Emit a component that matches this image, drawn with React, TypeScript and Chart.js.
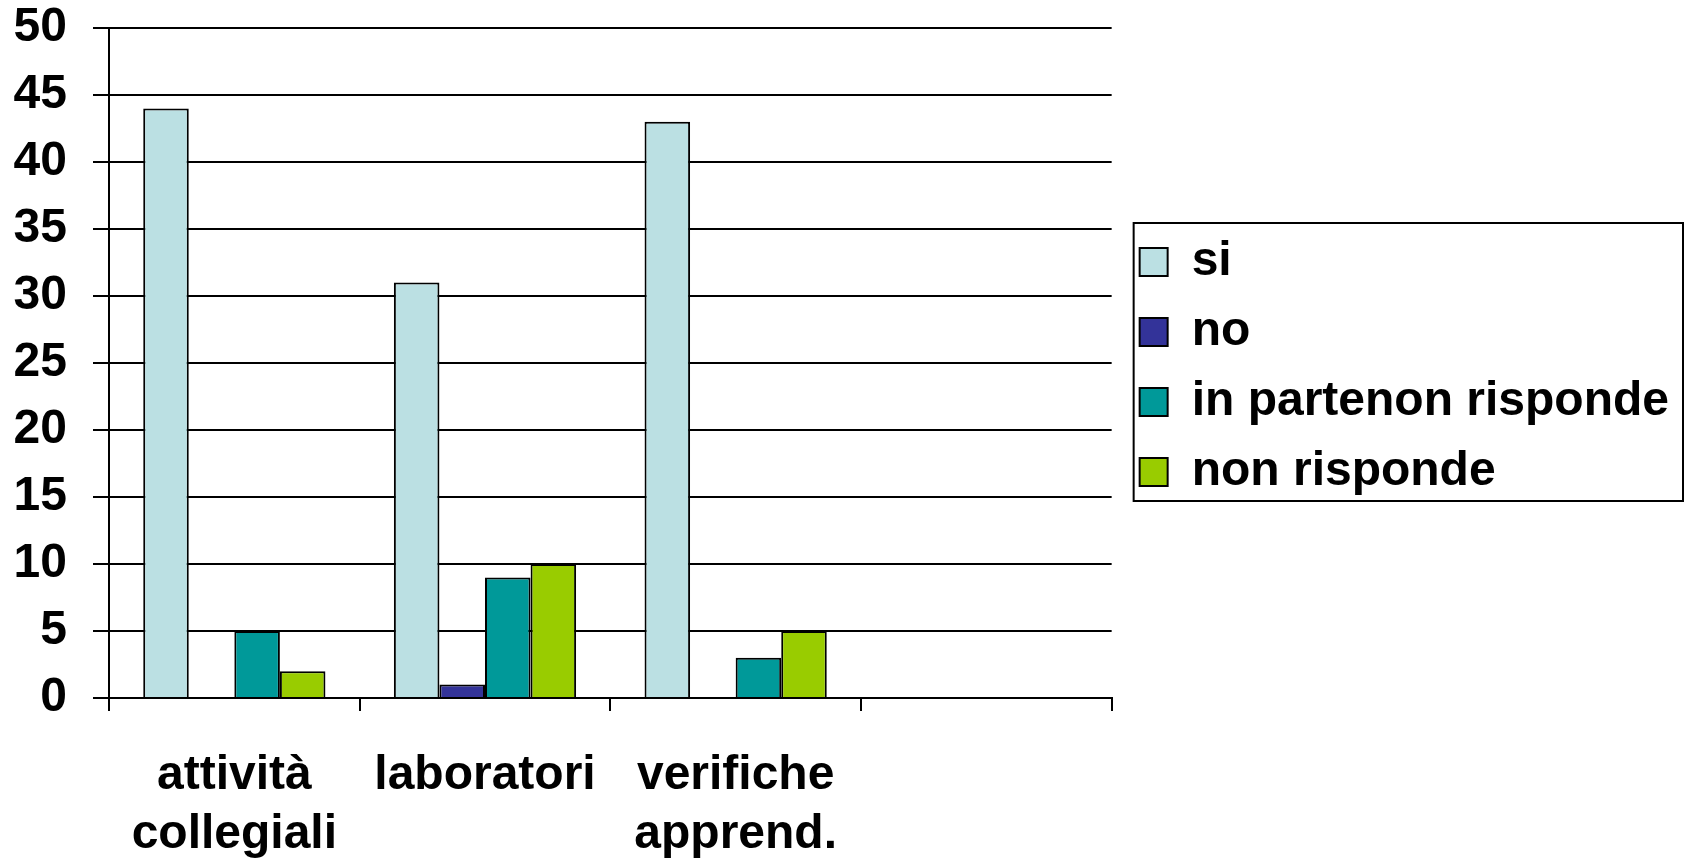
import React, { useEffect, useRef } from "react";
import { Chart, registerables } from "chart.js";

Chart.register(...registerables);

const categories: (string | string[])[] = [["attività", "collegiali"], "laboratori", ["verifiche", "apprend."], ""];
const seriesNames = ["si", "no", "in partenon risponde", "non risponde"];
const siValues = [44, 31, 43, null];
const noValues = [0, 1, 0, null];
const inParteValues = [5, 9, 3, null];
const nonRispondeValues = [2, 10, 5, null];
const seriesColors = ["#BBE0E3", "#333399", "#009999", "#99CC00"];
const yMin = 0;
const yMax = 50;
const yStep = 5;

const FONT = "'Liberation Sans', Arial, sans-serif";
const FS = 48;

const legendTweak = {
  id: "legendTweak",
  afterLayout(chart: any) {
    const lg = chart.legend;
    if (!lg) return;
    lg.left += 6;
    lg.right += 6;
    lg.top -= 63;
    lg.bottom -= 63;
  },
  afterDraw(chart: any) {
    const lg = chart.legend;
    if (!lg || !lg.legendHitBoxes || !lg.legendHitBoxes.length) return;
    const boxes = lg.legendHitBoxes;
    const first = boxes[0];
    const last = boxes[boxes.length - 1];
    const ctx = chart.ctx;
    const left = first.left - 6;
    const top = first.top - 15;
    const bottom = last.top + last.height + 5;
    const right = chart.width - 1;
    ctx.save();
    ctx.strokeStyle = "#000";
    ctx.lineWidth = 2;
    ctx.strokeRect(left, top, right - left, bottom - top);
    ctx.restore();
  },
};

export default function App() {
  const ref = useRef<HTMLCanvasElement | null>(null);
  useEffect(() => {
    if (!ref.current) return;
    const data = [siValues, noValues, inParteValues, nonRispondeValues];
    const chart = new Chart(ref.current, {
      type: "bar",
      data: {
        labels: categories,
        datasets: seriesNames.map((name, i) => ({
          label: name,
          data: data[i],
          backgroundColor: seriesColors[i],
          borderColor: "#000",
          borderWidth: 2,
          barPercentage: 1,
          categoryPercentage: 0.727,
        })),
      },
      options: {
        animation: false,
        responsive: false,
        maintainAspectRatio: false,
        layout: { padding: { left: 0, top: 0, right: 11, bottom: 0 } },
        plugins: {
          tooltip: { enabled: false },
          legend: {
            position: "right",
            align: "center",
            maxWidth: 620,
            labels: {
              color: "#000",
              font: { family: FONT, size: FS, weight: "bold" },
              boxWidth: 28,
              boxHeight: 28,
              padding: 22,
            },
          },
        },
        scales: {
          x: {
            afterFit(scale: any) {
              scale.height = 162;
              scale.paddingLeft = 0;
              scale.paddingRight = 0;
            },
            grid: {
              display: true,
              offset: true,
              drawOnChartArea: false,
              drawTicks: true,
              tickLength: 13,
              color: "#000",
              lineWidth: 2,
            },
            border: { display: true, color: "#000", width: 2 },
            ticks: {
              color: "#000",
              padding: 35,
              maxRotation: 0,
              autoSkip: false,
              font: { family: FONT, size: FS, weight: "bold", lineHeight: 1.23 },
            },
          },
          y: {
            min: yMin,
            max: yMax,
            afterFit(scale: any) {
              scale.width = 109;
              scale.paddingTop = 28;
              scale.paddingBottom = 0;
            },
            ticks: {
              stepSize: yStep,
              color: "#000",
              padding: 26,
              font: { family: FONT, size: FS, weight: "bold" },
            },
            grid: {
              color: "#000",
              lineWidth: 2,
              tickLength: 16,
            },
            border: { display: true, color: "#000", width: 2 },
          },
        },
      },
      plugins: [legendTweak],
    } as any);
    return () => chart.destroy();
  }, []);
  return (
    <div style={{ position: "fixed", left: 0, top: 0, width: 1684, height: 860, background: "#fff" }}>
      <canvas ref={ref} width={1684} height={860} style={{ width: 1684, height: 860, display: "block" }} />
    </div>
  );
}
